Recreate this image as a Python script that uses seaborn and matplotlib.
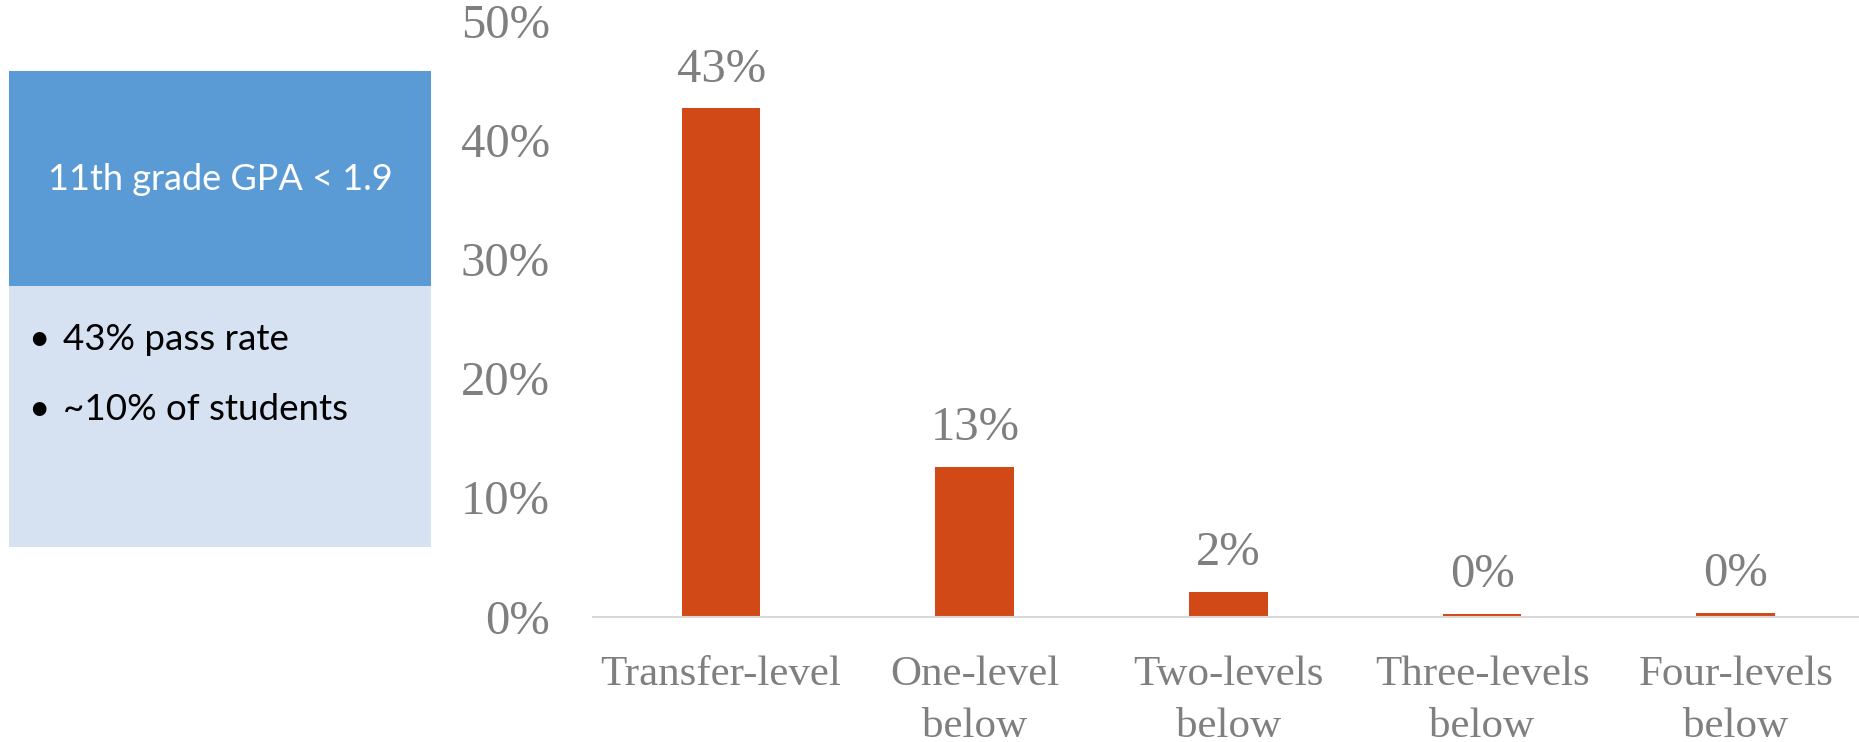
import matplotlib
matplotlib.use("Agg")
import matplotlib.pyplot as plt
import seaborn as sns
import pandas as pd
from matplotlib.patches import Rectangle

# ---- data ----
categories = ["Transfer-level", "One-level\nbelow", "Two-levels\nbelow",
              "Three-levels\nbelow", "Four-levels\nbelow"]
pass_rates = [0.427, 0.126, 0.021, 0.002, 0.003]
y_ticks = [0.0, 0.1, 0.2, 0.3, 0.4, 0.5]
box_title = "11th grade GPA < 1.9"
box_bullets = ["43% pass rate", "~10% of students"]

df = pd.DataFrame({"level": categories, "rate": pass_rates})

sns.set_style("white")
plt.rcParams["font.family"] = ["Liberation Serif", "DejaVu Serif"]

BAR = "#D14917"
GRAY = "#7F7F7F"

fig = plt.figure(figsize=(18.59, 7.42), dpi=100)
ax = fig.add_axes([593 / 1859, 125.5 / 742, 1 - 593 / 1859, 595 / 742])

sns.barplot(data=df, x="level", y="rate", color=BAR, width=0.31, ax=ax,
            saturation=1, edgecolor="none")

ax.set_ylim(0, 0.5)
ax.set_xlim(-0.505, 4.486)
ax.set_yticks(y_ticks)
ax.set_yticklabels([f"{t:.0%}" for t in y_ticks])
ax.set_xlabel("")
ax.set_ylabel("")
ax.tick_params(axis="y", length=0, pad=31, labelsize=35, labelcolor=GRAY)
ax.tick_params(axis="x", length=0, pad=28, labelsize=31, labelcolor=GRAY)
for lbl in ax.get_xticklabels():
    lbl.set_linespacing(1.45)

for s in ["top", "right", "left"]:
    ax.spines[s].set_visible(False)
ax.spines["bottom"].set_color("#D9D9D9")
ax.spines["bottom"].set_linewidth(1.5)
ax.grid(False)

ax.bar_label(ax.containers[0], labels=[f"{v:.0%}" for v in pass_rates],
             padding=12, fontsize=35, color=GRAY)

# ---- left info box ----
x0, w = 9 / 1859, 422 / 1859
fig.patches.append(Rectangle((x0, (742 - 286) / 742), w, 215 / 742,
                             transform=fig.transFigure, facecolor="#5B9BD5",
                             edgecolor="none", zorder=0))
fig.patches.append(Rectangle((x0, (742 - 547) / 742), w, 261 / 742,
                             transform=fig.transFigure, facecolor="#D6E1F2",
                             edgecolor="none", zorder=0))

sans = ["Lato", "DejaVu Sans"]
fig.text(220 / 1859, (742 - 180) / 742, box_title, color="white",
         fontsize=26, family=sans, ha="center", va="center")
for i, b in enumerate(box_bullets):
    yy = (742 - (340 + 70 * i)) / 742
    fig.text(39 / 1859, yy, "•", color="black", fontsize=26.5, family=sans,
             ha="center", va="center")
    fig.text(63 / 1859, yy, b, color="black", fontsize=26.5, family=sans,
             ha="left", va="center")

fig.savefig("out.png", dpi=100)
